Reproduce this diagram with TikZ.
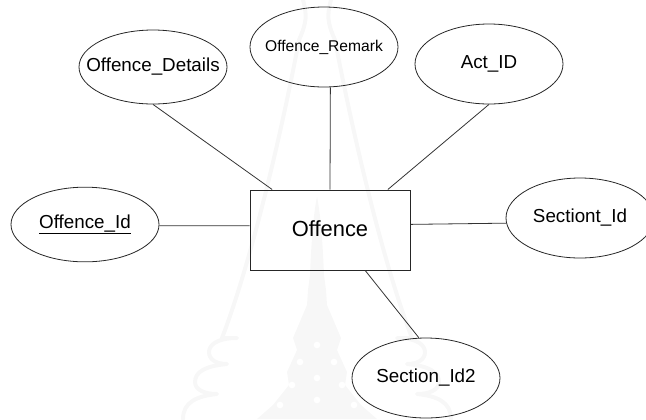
\documentclass[tikz,border=0pt]{standalone}
\usepackage{fontspec}
\setmainfont{Liberation Sans}
\usetikzlibrary{shapes.geometric}
\newcommand{\fs}[1]{\fontsize{#1}{#1}\selectfont}
\newcommand{\lab}[1]{\makebox[0pt]{#1}}
\definecolor{wm}{gray}{0.97}
\tikzset{
  x=0.75pt,y=-0.75pt,
  attr/.style={draw=black!85,line width=0.6pt,ellipse,inner sep=0pt,minimum width=111pt,minimum height=60pt,font=\fs{14.1}},
  ent/.style={draw=black!85,line width=0.75pt,rectangle,inner sep=0pt,minimum width=120pt,minimum height=60pt,font=\fs{16.4}},
  link/.style={draw=black!80,line width=0.6pt},
  wmline/.style={draw=wm,line width=3pt,line cap=round,line join=round},
  wmfill/.style={fill=wm,draw=none}
}
\newcommand{\wmside}{%
  \draw[wmline] (14,0) .. controls (10,15) and (10,22) .. (18,40) .. controls (35,130) and (65,260) .. (95,338) -- (80,338)
     .. controls (100,338) and (108,345) .. (108,352) .. controls (108,360) and (100,364) .. (90,364)
     .. controls (112,366) and (122,372) .. (122,382) .. controls (122,390) and (112,394) .. (100,394)
     .. controls (120,396) and (134,402) .. (134,419);
  \fill[wmfill] (0,197) .. controls (4,215) and (6,250) .. (7,275) -- (9,290) -- (10,305) -- (24,338) -- (20,350) -- (30,372) -- (28,385) -- (44,405) -- (60,419) -- (0,419) -- cycle;
}
\begin{document}
\begin{tikzpicture}
\useasboundingbox (0,0) rectangle (646,419);
\begin{scope}
\clip (0,0) rectangle (646,419);
\begin{scope}[shift={(317,0)}]\wmside\end{scope}
\begin{scope}[shift={(317,0)},xscale=-1]\wmside\end{scope}
\foreach \a/\b in {317/345,300/362,334/362,317/378,292/385,342/385,317/400,280/405,354/405}{
  \fill[white] (\a,\b) circle[radius=2.5pt];
}
\node[ent] (offence) at (330,230) {\raisebox{1.5pt}{Offence}};
\node[attr,minimum height=55.5pt] (details) at (153,67) {\lab{Offence\_Details}};
\node[attr,font=\fs{11.7}] (remark) at (324,47) {\lab{Offence\_Remark}};
\node[attr] (act) at (489,64) {\lab{Act\_ID}};
\node[attr,minimum height=56pt] (oid) at (85,224.5) {\lab{\underline{Offence\_Id}}};
\node[attr] (sid) at (580,218) {\lab{Sectiont\_Id}};
\node[attr] (sid2) at (426,378) {\lab{Section\_Id2}};
\draw[link] (details.south) -- (offence.145);
\draw[link] (remark.-81.5) -- (offence.north);
\draw[link] (act.south) -- (offence.35);
\draw[link] (oid.-1.7) -- (offence.177.6);
\draw[link] (sid.184.6) -- (offence.4.3);
\draw[link] (sid2.100) -- (offence.-49.6);
\end{scope}
\end{tikzpicture}
\end{document}
